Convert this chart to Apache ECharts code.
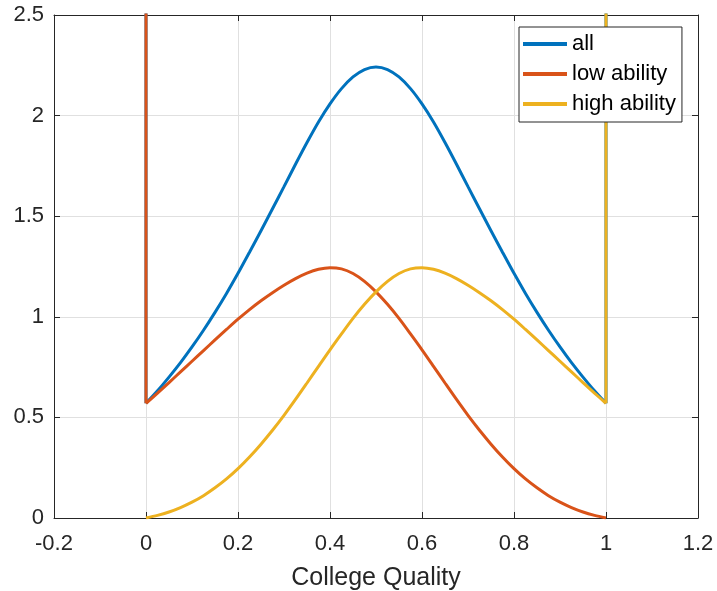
<!DOCTYPE html>
<html>
<head>
<meta charset="utf-8">
<script src="https://cdn.jsdelivr.net/npm/echarts@6/dist/echarts.min.js"></script>
<style>
html,body{margin:0;padding:0;background:#fff;}
#chart{width:717px;height:591px;}
</style>
</head>
<body>
<div id="chart"></div>
<script>
// x positions (college quality)
const qualityX = [0,0.025,0.05,0.075,0.1,0.125,0.15,0.175,0.2,0.225,0.25,0.275,0.3,0.325,0.35,0.375,0.4,0.425,0.45,0.475,
  0.5,0.525,0.55,0.575,0.6,0.625,0.65,0.675,0.7,0.725,0.75,0.775,0.8,0.825,0.85,0.875,0.9,0.925,0.95,0.975,1];
// densities
const lowAbility = [0.570,0.621,0.673,0.726,0.779,0.832,0.885,0.937,0.988,1.036,1.080,1.120,1.157,1.190,1.217,1.236,1.244,1.238,1.215,1.176,
  1.124,1.062,0.992,0.915,0.836,0.754,0.671,0.589,0.510,0.436,0.367,0.303,0.245,0.194,0.150,0.111,0.079,0.052,0.030,0.013,0.000];
const highAbility = [0.000,0.013,0.030,0.052,0.079,0.111,0.150,0.194,0.245,0.303,0.367,0.436,0.510,0.589,0.671,0.754,0.836,0.915,0.992,1.062,
  1.124,1.176,1.215,1.238,1.244,1.236,1.217,1.190,1.157,1.120,1.080,1.036,0.988,0.937,0.885,0.832,0.779,0.726,0.673,0.621,0.570];
const allValues = [0.570,0.632,0.700,0.772,0.850,0.933,1.022,1.116,1.216,1.321,1.428,1.537,1.647,1.758,1.866,1.968,2.058,2.134,2.192,2.229,
  2.242,2.229,2.192,2.134,2.058,1.968,1.866,1.758,1.647,1.537,1.428,1.321,1.216,1.116,1.022,0.933,0.850,0.772,0.700,0.632,0.570];
// point masses at the ends drawn as vertical spikes (run off the top)
const spikeTop = 10;
const seriesNames = ['all','low ability','high ability'];
const colors = ['#0072BD','#D95319','#EDB120'];
const xTicks = [-0.2,0,0.2,0.4,0.6,0.8,1,1.2];
const yTicks = [0,0.5,1,1.5,2,2.5];
const xLabel = 'College Quality';

const pairs = (ys) => qualityX.map((x,i)=>[x,ys[i]]);
const axisColor = '#262626';
const font = 'Liberation Sans, Arial, Helvetica, sans-serif';

function curve(name, ys, color){
  return {name, type:'line', data:pairs(ys), symbol:'none', smooth:0.3,
    lineStyle:{color, width:3}, itemStyle:{color}, clip:true, animation:false};
}
function spike(name, x, y0, color){
  return {name, type:'line', data:[[x,y0],[x,spikeTop]], symbol:'none',
    lineStyle:{color, width:3}, itemStyle:{color}, clip:true, animation:false};
}

const chart = echarts.init(document.getElementById('chart'), null, {renderer:'canvas'});
chart.setOption({
  animation:false,
  backgroundColor:'#fff',
  grid:{left:54, right:19, top:15, bottom:73, containLabel:false, outerBoundsMode:'none'},
  legend:{
    data:seriesNames, orient:'vertical', left:519, top:27,
    padding:[6,6,7,4], itemGap:8, itemWidth:44, itemHeight:4, icon:'rect',
    backgroundColor:'#fff', borderColor:axisColor, borderWidth:1, borderRadius:0,
    textStyle:{fontFamily:font, fontSize:22, color:'#000', lineHeight:22, height:22}
  },
  xAxis:[{
    type:'value', min:xTicks[0], max:xTicks[xTicks.length-1], interval:0.2,
    name:xLabel, nameLocation:'middle', nameGap:48,
    nameTextStyle:{fontFamily:font, fontSize:25, color:axisColor},
    axisLine:{show:true, onZero:false, lineStyle:{color:axisColor, width:1}},
    axisTick:{show:true, inside:true, length:6, lineStyle:{color:axisColor}},
    axisLabel:{fontFamily:font, fontSize:22, color:axisColor, margin:15,
      formatter:(v)=>String(Math.round(v*10)/10)},
    splitLine:{show:true, lineStyle:{color:'#e0e0e0', width:1}}
  },{
    type:'value', position:'top', min:xTicks[0], max:xTicks[xTicks.length-1], interval:0.2,
    axisLine:{show:true, onZero:false, lineStyle:{color:axisColor, width:1}},
    axisTick:{show:true, inside:true, length:6, lineStyle:{color:axisColor}},
    axisLabel:{show:false}, splitLine:{show:false}
  }],
  yAxis:[{
    type:'value', min:yTicks[0], max:yTicks[yTicks.length-1], interval:0.5,
    axisLine:{show:true, onZero:false, lineStyle:{color:axisColor, width:1}},
    axisTick:{show:true, inside:true, length:6, lineStyle:{color:axisColor}},
    axisLabel:{fontFamily:font, fontSize:22, color:axisColor, margin:10, padding:[4,0,0,0],
      formatter:(v)=>String(Math.round(v*10)/10)},
    splitLine:{show:true, lineStyle:{color:'#e0e0e0', width:1}}
  },{
    type:'value', position:'right', min:yTicks[0], max:yTicks[yTicks.length-1], interval:0.5,
    axisLine:{show:true, onZero:false, lineStyle:{color:axisColor, width:1}},
    axisTick:{show:true, inside:true, length:6, lineStyle:{color:axisColor}},
    axisLabel:{show:false}, splitLine:{show:false}
  }],
  series:[
    curve(seriesNames[0], allValues, colors[0]),
    spike('all-spike-0', 0, allValues[0], colors[0]),
    spike('all-spike-1', 1, allValues[allValues.length-1], colors[0]),
    curve(seriesNames[1], lowAbility, colors[1]),
    spike('low-spike', 0, lowAbility[0], colors[1]),
    curve(seriesNames[2], highAbility, colors[2]),
    spike('high-spike', 1, highAbility[highAbility.length-1], colors[2])
  ]
});
</script>
</body>
</html>
